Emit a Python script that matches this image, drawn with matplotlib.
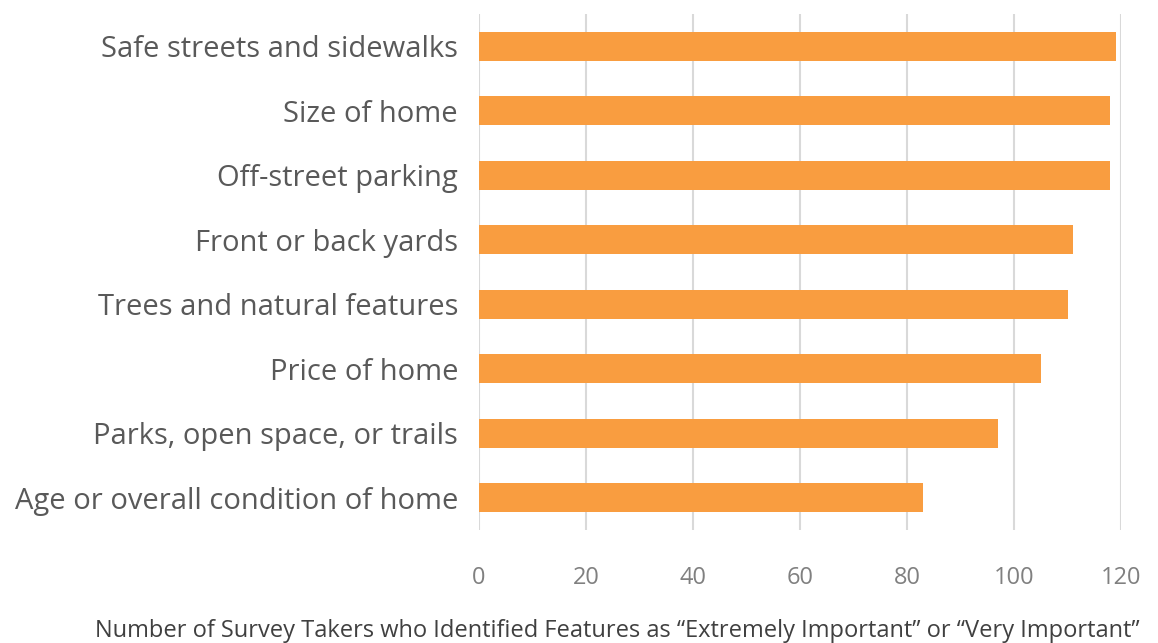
import matplotlib.pyplot as plt

features = [
    "Safe streets and sidewalks",
    "Size of home",
    "Off-street parking",
    "Front or back yards",
    "Trees and natural features",
    "Price of home",
    "Parks, open space, or trails",
    "Age or overall condition of home",
]
counts = [119, 118, 118, 111, 110, 105, 97, 83]
xticks = [0, 20, 40, 60, 80, 100, 120]

plt.rcParams["font.family"] = ["Open Sans", "DejaVu Sans"]

fig = plt.figure(figsize=(11.58, 6.43), dpi=100)
ax = fig.add_axes([0.4136, 0.176, 0.5545, 0.802])

ypos = list(range(len(features)))[::-1]
ax.barh(ypos, counts, height=0.45, color="#F99D40", zorder=3)

ax.set_xlim(0, 120)
ax.set_ylim(-0.5, len(features) - 0.5)
ax.set_xticks(xticks)
ax.set_xticklabels([str(t) for t in xticks], fontsize=17, color="#808080")
ax.set_yticks(ypos)
ax.set_yticklabels(features, fontsize=21, color="#595959")
ax.tick_params(axis="both", length=0)
ax.tick_params(axis="x", pad=26)
ax.tick_params(axis="y", pad=15)

ax.grid(axis="x", color="#d9d9d9", linewidth=1.5, zorder=0)
for s in ax.spines.values():
    s.set_visible(False)

fig.text(0.533, 0.0,
         "Number of Survey Takers who Identified Features as \u201cExtremely Important\u201d or \u201cVery Important\u201d",
         fontsize=17, color="#404040", ha="center", va="bottom")

fig.savefig("out.png", dpi=100)
